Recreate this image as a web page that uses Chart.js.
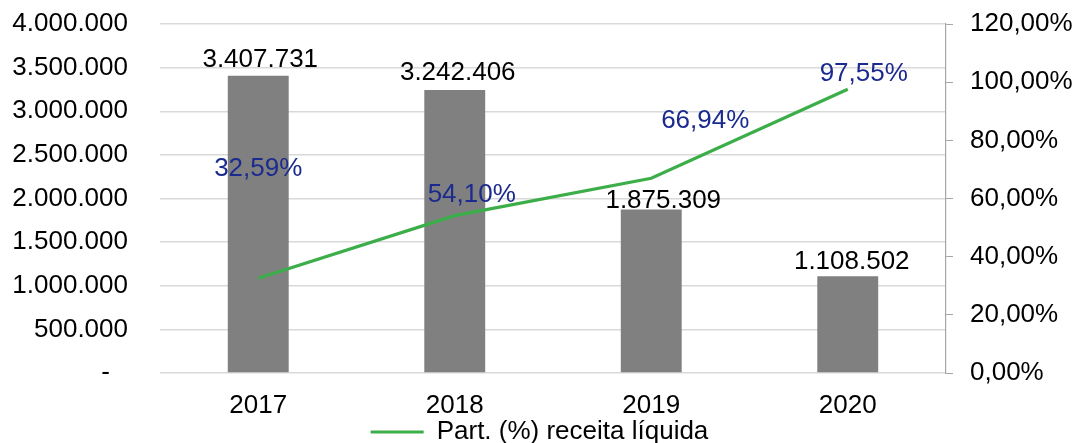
<!DOCTYPE html>
<html>
<head>
<meta charset="utf-8">
<script src="https://cdn.jsdelivr.net/npm/chart.js@4/dist/chart.umd.min.js"></script>
<style>
  html, body { margin: 0; padding: 0; background: #ffffff; }
  #wrap { width: 1079px; height: 443px; }
</style>
</head>
<body>
<div id="wrap"><canvas id="c" width="1079" height="443"></canvas></div>
<script>
// ---- data ----
const categories = ['2017', '2018', '2019', '2020'];
const barValues = [3407731, 3242406, 1875309, 1108502];
const lineValues = [32.59, 54.10, 66.94, 97.55];
const lineLabel = 'Part. (%) receita líquida';
const leftTicks = [0, 500000, 1000000, 1500000, 2000000, 2500000, 3000000, 3500000, 4000000];
const rightTicks = [0, 20, 40, 60, 80, 100, 120];

const FONT = "'Liberation Sans', Arial, sans-serif";
const FS = 26;

function fmtInt(v) {
  const s = Math.round(v).toString();
  return s.replace(/\B(?=(\d{3})+(?!\d))/g, '.');
}
function fmtPct(v) {
  return v.toFixed(2).replace('.', ',') + '%';
}

// label placement offsets (pixels, relative to mark) — styling only
const barLabelOffsets = [[2, -16], [3, -17], [12, -9], [4, -14]];
const lineLabelOffsets = [[0, -109], [17, -21], [54, -57], [16, -15]];

const labelPlugin = {
  id: 'valueLabels',
  afterDatasetsDraw(chart) {
    const ctx = chart.ctx;
    ctx.save();
    ctx.font = FS + 'px ' + FONT;
    ctx.textAlign = 'center';
    ctx.textBaseline = 'middle';
    const barMeta = chart.getDatasetMeta(0);
    barMeta.data.forEach((el, i) => {
      const o = barLabelOffsets[i];
      ctx.fillStyle = '#000000';
      ctx.fillText(fmtInt(barValues[i]), el.x + o[0], el.y + o[1]);
    });
    const lineMeta = chart.getDatasetMeta(1);
    lineMeta.data.forEach((el, i) => {
      const o = lineLabelOffsets[i];
      ctx.fillStyle = '#1b2a8e';
      ctx.fillText(fmtPct(lineValues[i]), el.x + o[0], el.y + o[1]);
    });
    ctx.restore();
  }
};

function fixAxis(width) {
  return (s) => {
    s.width = width;
    s.paddingTop = 0;
    s.paddingBottom = 0;
  };
}

new Chart(document.getElementById('c'), {
  data: {
    labels: categories,
    datasets: [
      {
        type: 'bar',
        label: 'Valor',
        data: barValues,
        backgroundColor: '#808080',
        borderWidth: 0,
        barPercentage: 0.31,
        categoryPercentage: 1.0,
        yAxisID: 'y',
        order: 2
      },
      {
        type: 'line',
        label: lineLabel,
        data: lineValues,
        borderColor: '#3cae49',
        backgroundColor: '#3cae49',
        borderWidth: 3.2,
        pointRadius: 0,
        tension: 0,
        yAxisID: 'y1',
        order: 1
      }
    ]
  },
  options: {
    responsive: false,
    animation: false,
    devicePixelRatio: 1,
    layout: { padding: { top: 24, left: 0, right: 0, bottom: -12 } },
    plugins: {
      tooltip: { enabled: false },
      legend: {
        position: 'bottom',
        labels: {
          filter: (item) => item.datasetIndex === 1,
          usePointStyle: true,
          pointStyle: 'line',
          pointStyleWidth: 53,
          padding: 0,
          color: '#000000',
          font: { family: FONT, size: FS }
        }
      }
    },
    scales: {
      x: {
        grid: { display: false, drawTicks: false },
        border: { display: false },
        ticks: { color: '#000000', padding: 17, font: { family: FONT, size: FS } },
        afterFit: (s) => { s.height = 46; s.paddingLeft = 0; s.paddingRight = 0; }
      },
      y: {
        position: 'left',
        min: 0,
        max: 4000000,
        afterBuildTicks: (s) => { s.ticks = leftTicks.map(v => ({ value: v })); },
        grid: { color: '#d9d9d9', lineWidth: 1.5, drawTicks: false },
        border: { display: false },
        ticks: {
          color: '#000000',
          padding: 32,
          font: { family: FONT, size: FS },
          callback: (v) => v === 0 ? '-\u2002\u2009' : fmtInt(v)
        },
        afterFit: fixAxis(160)
      },
      y1: {
        position: 'right',
        min: 0,
        max: 120,
        afterBuildTicks: (s) => { s.ticks = rightTicks.map(v => ({ value: v })); },
        grid: { drawOnChartArea: false, color: '#a6a6a6', tickColor: '#a6a6a6', tickLength: 7, lineWidth: 1 },
        border: { display: true, color: '#a6a6a6', width: 1.2 },
        ticks: {
          color: '#000000',
          padding: 17,
          font: { family: FONT, size: FS },
          callback: (v) => fmtPct(v)
        },
        afterFit: fixAxis(133)
      }
    }
  },
  plugins: [labelPlugin]
});
</script>
</body>
</html>
